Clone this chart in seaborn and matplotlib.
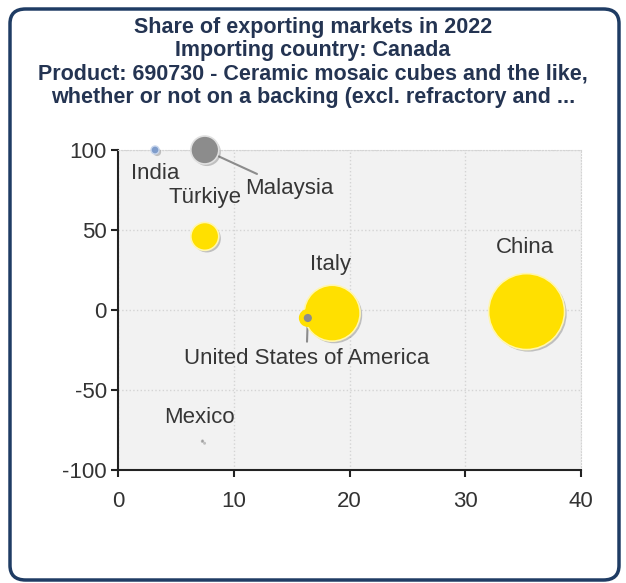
import matplotlib
matplotlib.use("Agg")
import matplotlib.pyplot as plt
import matplotlib.patheffects as pe
from matplotlib.patches import FancyBboxPatch
import pandas as pd
import seaborn as sns

# === Chart data ===
countries = ["China", "Italy", "Malaysia", "Türkiye", "United States of America", "India", "Mexico"]
share_x = [35.3, 18.5, 7.5, 7.5, 16.4, 3.2, 7.3]
growth_y = [-1, -2, 100, 46, -5, 100, -82]
bubble_value = [54.0, 29.3, 7.3, 7.3, 1.6, 0.6, 0.08]

title_lines = [
    "Share of exporting markets in 2022",
    "Importing country: Canada",
    "Product: 690730 - Ceramic mosaic cubes and the like,",
    "whether or not on a backing (excl. refractory and ...",
]
x_ticks = [0, 10, 20, 30, 40]
y_ticks = [-100, -50, 0, 50, 100]

df = pd.DataFrame({"country": countries, "x": share_x, "y": growth_y, "value": bubble_value})
df = df.sort_values("value", ascending=False)

YELLOW = "#FFE000"
palette = {
    "China": YELLOW, "Italy": YELLOW, "Türkiye": YELLOW,
    "Malaysia": "#8C8C8C", "United States of America": "#8C8C8C",
    "India": "#7E9CCB", "Mexico": "#A0A0A0",
}
edge_colors = {
    "China": "#FFF6B0", "Italy": "#FFF6B0", "Türkiye": "#FFF6B0",
    "Malaysia": "#E0E0E0", "United States of America": YELLOW,
    "India": "#C8D6EC", "Mexico": "#C0C0C0",
}
edge_widths = {
    "China": 1.2, "Italy": 1.2, "Türkiye": 1.2, "Malaysia": 1.2,
    "United States of America": 3.5, "India": 1.0, "Mexico": 0.3,
}

# label offsets in points (text centre relative to bubble centre)
label_offsets = {
    "China": (-1, 46), "Italy": (-1, 35), "Malaysia": (61, -28),
    "Türkiye": (0, 28), "United States of America": (-1, -29),
    "India": (0, -17), "Mexico": (-2, 17),
}

sns.set_style("white")
plt.rcParams["font.family"] = ["Liberation Sans", "DejaVu Sans"]
plt.rcParams["axes.unicode_minus"] = False

fig = plt.figure(figsize=(6.26, 5.83), dpi=100)

# rounded frame around the whole chart
frame = FancyBboxPatch((10 / 626, 3 / 583), 609 / 626, 571 / 583,
                       boxstyle="round,pad=0,rounding_size=0.025",
                       transform=fig.transFigure, facecolor="none",
                       edgecolor="#1F3C64", linewidth=2.5, zorder=5)
fig.patches.append(frame)

ax = fig.add_axes([118 / 626, 113 / 583, 463 / 626, 320 / 583])
ax.set_facecolor("#F2F2F2")

sns.scatterplot(data=df, x="x", y="y", hue="country", palette=palette,
                size="value", sizes=(0, 2990), size_norm=(0, 54),
                edgecolor="white", linewidth=1.2, legend=False, ax=ax,
                clip_on=False, zorder=3)

coll = ax.collections[0]
coll.set_edgecolors([edge_colors[c] for c in df["country"]])
coll.set_linewidths([edge_widths[c] for c in df["country"]])
coll.set_path_effects([pe.SimplePatchShadow(offset=(1.5, -1.5), shadow_rgbFace="#606060", alpha=0.35),
                       pe.Normal()])

for _, row in df.iterrows():
    dx, dy = label_offsets[row["country"]]
    arrow = None
    if row["country"] == "Malaysia":
        arrow = dict(arrowstyle="-", color="#8C8C8C", lw=1.5, shrinkA=2, shrinkB=10)
    elif row["country"] == "United States of America":
        arrow = dict(arrowstyle="-", color="#8C8C8C", lw=1.5, shrinkA=2, shrinkB=5)
    ax.annotate(row["country"], (row["x"], row["y"]), xytext=(dx, dy),
                textcoords="offset points", ha="center", va="center",
                fontsize=16, color="#363636", arrowprops=arrow, zorder=2,
                annotation_clip=False)

ax.set_xlim(0, 40)
ax.set_ylim(-100, 100)
ax.set_xticks(x_ticks)
ax.set_yticks(y_ticks)
ax.set_xlabel("")
ax.set_ylabel("")
ax.grid(True, color="#D4D4D4", linestyle=":", linewidth=1)
ax.set_axisbelow(True)
for side in ["top", "right"]:
    ax.spines[side].set_color("#D4D4D4")
    ax.spines[side].set_linestyle(":")
for side in ["left", "bottom"]:
    ax.spines[side].set_color("#222222")
    ax.spines[side].set_linewidth(1.5)
ax.tick_params(axis="both", direction="out", length=5, width=1.5, color="#222222",
               labelsize=16, labelcolor="#333333", left=True, bottom=True)
ax.tick_params(axis="x", pad=10)
ax.tick_params(axis="y", pad=3)

for i, line in enumerate(title_lines):
    fig.text(313 / 626, 1 - (27.5 + 23.3 * i) / 583, line, ha="center", va="center",
             fontsize=15.5, fontweight="bold", color="#243452")

fig.savefig("out.png", dpi=100)
